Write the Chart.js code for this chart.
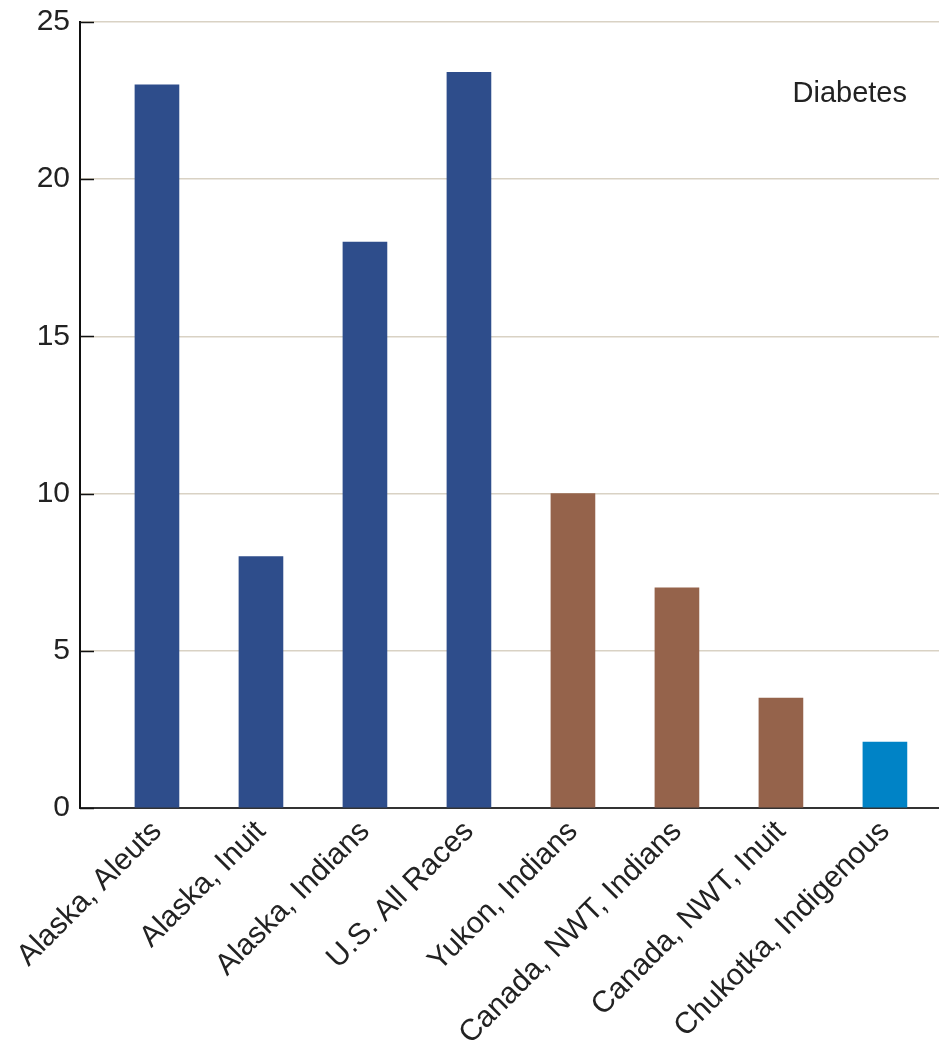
<!DOCTYPE html>
<html>
<head>
<meta charset="utf-8">
<script src="https://cdn.jsdelivr.net/npm/chart.js@4.4.1/dist/chart.umd.min.js"></script>
<style>
  html, body { margin: 0; padding: 0; background: #fff; }
  #wrap { width: 939px; height: 1043px; }
</style>
</head>
<body>
<div id="wrap"><canvas id="c"></canvas></div>
<script>
const categories = ['Alaska, Aleuts', 'Alaska, Inuit', 'Alaska, Indians', 'U.S. All Races',
  'Yukon, Indians', 'Canada, NWT, Indians', 'Canada, NWT, Inuit', 'Chukotka, Indigenous'];
const diabetes = [23, 8, 18, 23.4, 10, 7, 3.5, 2.1];
const regionColors = ['#2e4d8b', '#2e4d8b', '#2e4d8b', '#2e4d8b', '#95634b', '#95634b', '#95634b', '#0083c6'];
const yTicks = [0, 5, 10, 15, 20, 25];

const font = "'Liberation Sans', Arial, sans-serif";

// short black tick marks inside the y axis + the "Diabetes" note
const extras = {
  id: 'extras',
  afterDraw(chart) {
    const {ctx, chartArea} = chart;
    const y = chart.scales.y;
    ctx.save();
    ctx.strokeStyle = '#111';
    ctx.lineWidth = 1.5;
    yTicks.forEach(v => {
      const py = Math.round(y.getPixelForValue(v)) + 0.5;
      ctx.beginPath();
      ctx.moveTo(chartArea.left, py);
      ctx.lineTo(chartArea.left + 14, py);
      ctx.stroke();
    });
    ctx.fillStyle = '#222';
    ctx.font = '29px ' + font;
    ctx.textAlign = 'right';
    ctx.textBaseline = 'middle';
    ctx.fillText('Diabetes', 907, 94);
    ctx.restore();
  }
};

new Chart(document.getElementById('c'), {
  type: 'bar',
  data: {
    datasets: [{
      label: 'Diabetes',
      data: diabetes.map((v, i) => ({x: i, y: v})),
      backgroundColor: regionColors,
      borderWidth: 0,
      barThickness: 44
    }]
  },
  options: {
    responsive: true,
    maintainAspectRatio: false,
    animation: false,
    layout: { padding: { top: 22, right: 0, left: 0, bottom: 0 } },
    plugins: { legend: { display: false }, tooltip: { enabled: false } },
    scales: {
      x: {
        type: 'linear',
        offset: false,
        min: -0.74,
        max: 7.52,
        afterBuildTicks(scale) {
          scale.ticks = categories.map((_, i) => ({value: i}));
        },
        afterFit(scale) { scale.height = 235; },
        grid: { display: false, drawTicks: false, offset: false },
        border: { color: '#333', width: 2 },
        ticks: {
          autoSkip: false,
          maxRotation: 45,
          minRotation: 45,
          padding: 6,
          color: '#222',
          font: { family: font, size: 30 },
          callback: v => categories[v]
        }
      },
      y: {
        min: 0,
        max: 25,
        afterBuildTicks(scale) {
          scale.ticks = yTicks.map(v => ({value: v}));
        },
        afterFit(scale) {
          scale.width = 80;
          scale.paddingTop = 0;
          scale.paddingBottom = 0;
        },
        grid: { color: '#d9d2c4', lineWidth: 1.5, drawTicks: false },
        border: { color: '#111', width: 2 },
        ticks: {
          padding: 10,
          color: '#222',
          font: { family: font, size: 30 }
        }
      }
    }
  },
  plugins: [extras]
});
</script>
</body>
</html>
